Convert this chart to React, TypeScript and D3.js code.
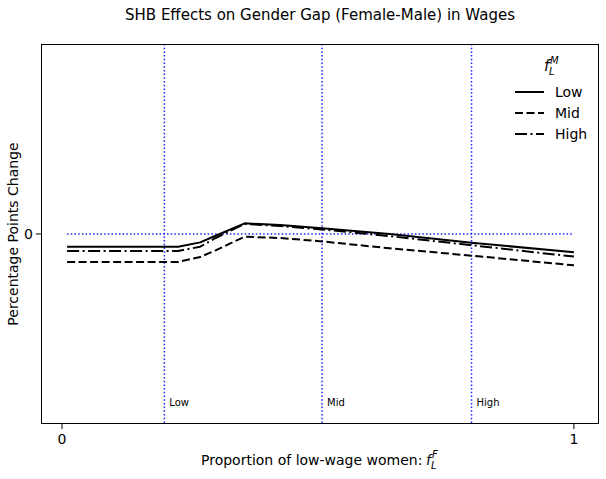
import * as d3 from 'd3'

// Proporção de mulheres de baixo salário (eixo x)
const fShares = [0.01, 0.227, 0.27, 0.3, 0.357, 0.426, 0.508, 0.64, 0.8, 1.0]

// Efeito em pontos percentuais para cada f_L^M
const lowSeries = [-0.067, -0.067, -0.044, -0.009, 0.056, 0.047, 0.03, 0.0, -0.046, -0.096]
const midSeries = [-0.147, -0.147, -0.121, -0.086, -0.014, -0.021, -0.039, -0.075, -0.114, -0.165]
const highSeries = [-0.089, -0.089, -0.067, -0.021, 0.053, 0.042, 0.024, -0.011, -0.059, -0.119]

const seriesNames = ['Low', 'Mid', 'High']
const refLines = [0.2, 0.508, 0.8]
const refLabels = ['Low', 'Mid', 'High']
const xTicks = [0, 1]
const yTicks = [0]

const FONT = '"DejaVu Sans", sans-serif'
const W = 606
const H = 479
const left = 41
const right = 599
const top = 44
const bottom = 424

const dashes = ['none', '8,3.5', '12,3.5,2,3.5']

export default function App() {
  const x = d3.scaleLinear().domain([-0.041, 1.049]).range([left, right])
  const y = d3.scaleLinear().domain([-1, 1]).range([bottom, top])

  const line = d3.line<number>()
    .x((_, i) => x(fShares[i]))
    .y(d => y(d))

  const allSeries = [lowSeries, midSeries, highSeries]
  const blue = '#2020ff'

  return (
    <svg width={W} height={H} style={{ position: 'absolute', left: 0, top: 0, background: '#fff' }} fontFamily={FONT}>
      <rect x={0} y={0} width={W} height={H} fill="#fff" />

      {/* título */}
      <text x={(left + right) / 2} y={20} textAnchor="middle" fontSize={15} fill="#000">
        SHB Effects on Gender Gap (Female-Male) in Wages
      </text>

      {/* linha horizontal em zero */}
      <line x1={x(fShares[0])} x2={x(fShares[fShares.length - 1])} y1={y(0)} y2={y(0)}
        stroke={blue} strokeWidth={1.5} strokeDasharray="1.5,2.2" />

      {/* linhas verticais de referência */}
      {refLines.map((v, i) => (
        <g key={i}>
          <line x1={x(v)} x2={x(v)} y1={top} y2={bottom} stroke={blue} strokeWidth={1.5} strokeDasharray="1.5,2.2" />
          <text x={x(v) + 5} y={406} fontSize={10} fill="#000">{refLabels[i]}</text>
        </g>
      ))}

      {/* séries */}
      {allSeries.map((s, i) => (
        <path key={i} d={line(s) || ''} fill="none" stroke="#000" strokeWidth={2}
          strokeDasharray={dashes[i]} strokeLinejoin="round" />
      ))}

      {/* moldura */}
      <rect x={left + 0.5} y={top + 0.5} width={right - left - 1} height={bottom - top - 1}
        fill="none" stroke="#000" strokeWidth={1} />

      {/* ticks x */}
      {xTicks.map(t => (
        <g key={t}>
          <line x1={x(t)} x2={x(t)} y1={bottom} y2={bottom + 5} stroke="#000" />
          <text x={x(t)} y={444} textAnchor="middle" fontSize={14}>{t}</text>
        </g>
      ))}

      {/* ticks y */}
      {yTicks.map(t => (
        <g key={t}>
          <line x1={left - 5} x2={left} y1={y(t)} y2={y(t)} stroke="#000" />
          <text x={left - 8} y={y(t) + 5} textAnchor="end" fontSize={14}>{t}</text>
        </g>
      ))}

      {/* rótulo x */}
      <text x={201} y={465} fontSize={14}>
        Proportion of low-wage women:
      </text>
      <text x={426} y={465} fontSize={14} fontStyle="italic">f</text>
      <text x={431} y={469} fontSize={10} fontStyle="italic">L</text>
      <text x={432} y={458} fontSize={10} fontStyle="italic">F</text>

      {/* rótulo y */}
      <text transform={`translate(18,${y(0)}) rotate(-90)`} textAnchor="middle" fontSize={14}>
        Percentage Points Change
      </text>

      {/* legenda */}
      <text x={544} y={71} fontSize={15} fontStyle="italic">f</text>
      <text x={549} y={75} fontSize={10} fontStyle="italic">L</text>
      <text x={550} y={64} fontSize={10} fontStyle="italic">M</text>
      {seriesNames.map((n, i) => (
        <g key={n} transform={`translate(0,${92 + i * 21})`}>
          <line x1={515} x2={544} y1={0} y2={0} stroke="#000" strokeWidth={2} strokeDasharray={dashes[i]} />
          <text x={555} y={5} fontSize={14}>{n}</text>
        </g>
      ))}
    </svg>
  )
}
